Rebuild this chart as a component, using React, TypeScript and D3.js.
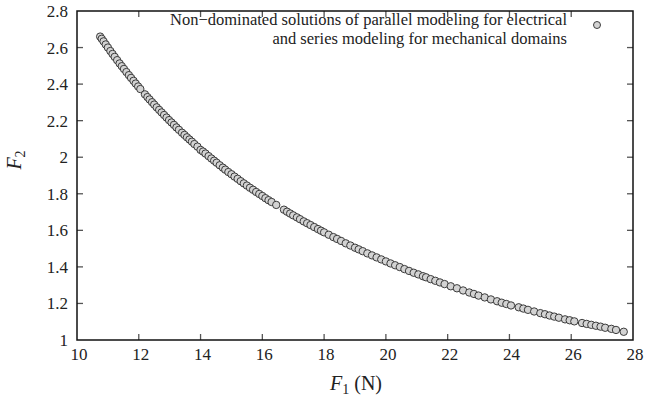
import React from "react";
import * as d3 from "d3";

const f1Values: number[] = [
  10.75, 10.8, 10.86, 10.93, 11.0, 11.08, 11.15, 11.22, 11.3, 11.38, 11.45, 11.52, 11.6, 11.68,
  11.75, 11.83, 11.9, 11.98, 12.05, 12.2, 12.28, 12.35, 12.43, 12.5, 12.58, 12.66, 12.74, 12.82,
  12.9, 12.98, 13.06, 13.14, 13.22, 13.3, 13.4, 13.48, 13.56, 13.64, 13.72, 13.8, 13.9, 14.0,
  14.08, 14.16, 14.26, 14.35, 14.44, 14.52, 14.62, 14.72, 14.8, 14.9, 15.0, 15.1, 15.2, 15.3,
  15.4, 15.5, 15.6, 15.7, 15.8, 15.9, 16.0, 16.1, 16.2, 16.3, 16.45, 16.7, 16.8, 16.9, 17.0,
  17.12, 17.22, 17.34, 17.45, 17.56, 17.68, 17.8, 17.9, 18.0, 18.15, 18.3, 18.42, 18.55, 18.7,
  18.85, 19.0, 19.12, 19.25, 19.4, 19.55, 19.7, 19.85, 20.0, 20.15, 20.3, 20.45, 20.6, 20.75,
  20.9, 21.05, 21.2, 21.3, 21.45, 21.6, 21.75, 21.9, 22.1, 22.3, 22.5, 22.7, 22.85, 23.0, 23.2,
  23.4, 23.6, 23.75, 23.9, 24.05, 24.3, 24.45, 24.6, 24.8, 25.0, 25.15, 25.3, 25.45, 25.6, 25.8,
  25.95, 26.1, 26.35, 26.5, 26.65, 26.8, 26.95, 27.1, 27.3, 27.45, 27.7,
];

const f2Values: number[] = [
  2.66, 2.648, 2.634, 2.617, 2.6, 2.581, 2.565, 2.549, 2.531, 2.513, 2.498, 2.483, 2.466, 2.449,
  2.434, 2.418, 2.403, 2.387, 2.373, 2.344, 2.329, 2.316, 2.301, 2.288, 2.273, 2.259, 2.245, 2.231,
  2.217, 2.203, 2.19, 2.177, 2.163, 2.15, 2.134, 2.122, 2.109, 2.097, 2.085, 2.072, 2.058, 2.04,
  2.031, 2.02, 2.006, 1.993, 1.981, 1.97, 1.956, 1.943, 1.932, 1.919, 1.907, 1.894, 1.882, 1.869,
  1.857, 1.845, 1.833, 1.822, 1.81, 1.799, 1.788, 1.776, 1.765, 1.755, 1.739, 1.713, 1.702, 1.692,
  1.682, 1.671, 1.661, 1.649, 1.639, 1.629, 1.618, 1.607, 1.598, 1.589, 1.576, 1.563, 1.553, 1.542,
  1.529, 1.517, 1.505, 1.496, 1.486, 1.474, 1.463, 1.452, 1.441, 1.43, 1.419, 1.409, 1.399, 1.388,
  1.378, 1.368, 1.359, 1.349, 1.343, 1.333, 1.324, 1.315, 1.306, 1.294, 1.283, 1.271, 1.26, 1.252,
  1.243, 1.233, 1.222, 1.212, 1.204, 1.197, 1.189, 1.179, 1.172, 1.165, 1.156, 1.147, 1.141, 1.134,
  1.128, 1.122, 1.113, 1.108, 1.102, 1.093, 1.088, 1.083, 1.078, 1.073, 1.067, 1.061, 1.055, 1.045,
];

const xTicks: number[] = [10, 12, 14, 16, 18, 20, 22, 24, 26, 28];
const yTicks: number[] = [1, 1.2, 1.4, 1.6, 1.8, 2, 2.2, 2.4, 2.6, 2.8];
const xTickLabels: string[] = ["10", "12", "14", "16", "18", "20", "22", "24", "26", "28"];
const yTickLabels: string[] = ["1", "1.2", "1.4", "1.6", "1.8", "2", "2.2", "2.4", "2.6", "2.8"];
const legendLines: string[] = [
  "Non\u2212dominated solutions of parallel modeling for electrical",
  "and series modeling for mechanical domains",
];

const W = 656;
const H = 400;
const L = 77;
const R = 633;
const T = 11;
const B = 340;
const FONT = "'Liberation Serif', 'DejaVu Serif', serif";

export default function App() {
  const x = d3.scaleLinear().domain([10, 28]).range([L, R]);
  const y = d3.scaleLinear().domain([1, 2.8]).range([B, T]);
  const tickLen = 6;
  const tickColor = "#555";

  return (
    <svg
      width={W}
      height={H}
      style={{ position: "absolute", left: 0, top: 0, background: "#fff" }}
      fontFamily={FONT}
    >
      {/* ticks */}
      {xTicks.map((t, i) => (
        <g key={"xt" + i}>
          {i > 0 && i < xTicks.length - 1 && (
            <>
              <line x1={x(t)} x2={x(t)} y1={B} y2={B - tickLen} stroke={tickColor} strokeWidth={1.3} />
              <line x1={x(t)} x2={x(t)} y1={T} y2={T + tickLen} stroke={tickColor} strokeWidth={1.3} />
            </>
          )}
          <text x={x(t) + 2} y={360} textAnchor="middle" fontSize={17} fill="#222">
            {xTickLabels[i]}
          </text>
        </g>
      ))}
      {yTicks.map((t, i) => (
        <g key={"yt" + i}>
          {i > 0 && i < yTicks.length - 1 && (
            <>
              <line x1={L} x2={L + tickLen} y1={y(t)} y2={y(t)} stroke={tickColor} strokeWidth={1.3} />
              <line x1={R} x2={R - tickLen} y1={y(t)} y2={y(t)} stroke={tickColor} strokeWidth={1.3} />
            </>
          )}
          <text x={68} y={y(t) + 6} textAnchor="end" fontSize={17} fill="#222">
            {yTickLabels[i]}
          </text>
        </g>
      ))}

      {/* points */}
      {f1Values.map((v, i) => (
        <circle
          key={"p" + i}
          cx={x(v)}
          cy={y(f2Values[i])}
          r={3.7}
          fill="#d3d3d3"
          stroke="#2a2a2a"
          strokeWidth={0.9}
        />
      ))}

      {/* frame */}
      <rect x={L} y={T} width={R - L} height={B - T} fill="none" stroke="#111" strokeWidth={1.5} />

      {/* legend */}
      <text x={567} y={25} textAnchor="end" fontSize={16.5} fill="#222">
        {legendLines[0]}
      </text>
      <text x={567} y={44} textAnchor="end" fontSize={16.5} fill="#222">
        {legendLines[1]}
      </text>
      <circle cx={597} cy={25} r={3.5} fill="#d3d3d3" stroke="#2a2a2a" strokeWidth={0.9} />

      {/* axis labels */}
      <text x={356} y={390} textAnchor="middle" fontSize={20} fill="#222">
        <tspan fontStyle="italic">F</tspan>
        <tspan fontSize={14} dy={4}>1</tspan>
        <tspan dy={-4}> (N)</tspan>
      </text>
      <text
        transform={`translate(21,160) rotate(-90)`}
        textAnchor="middle"
        fontSize={20}
        fill="#222"
      >
        <tspan fontStyle="italic">F</tspan>
        <tspan fontSize={14} dy={4}>2</tspan>
      </text>
    </svg>
  );
}
